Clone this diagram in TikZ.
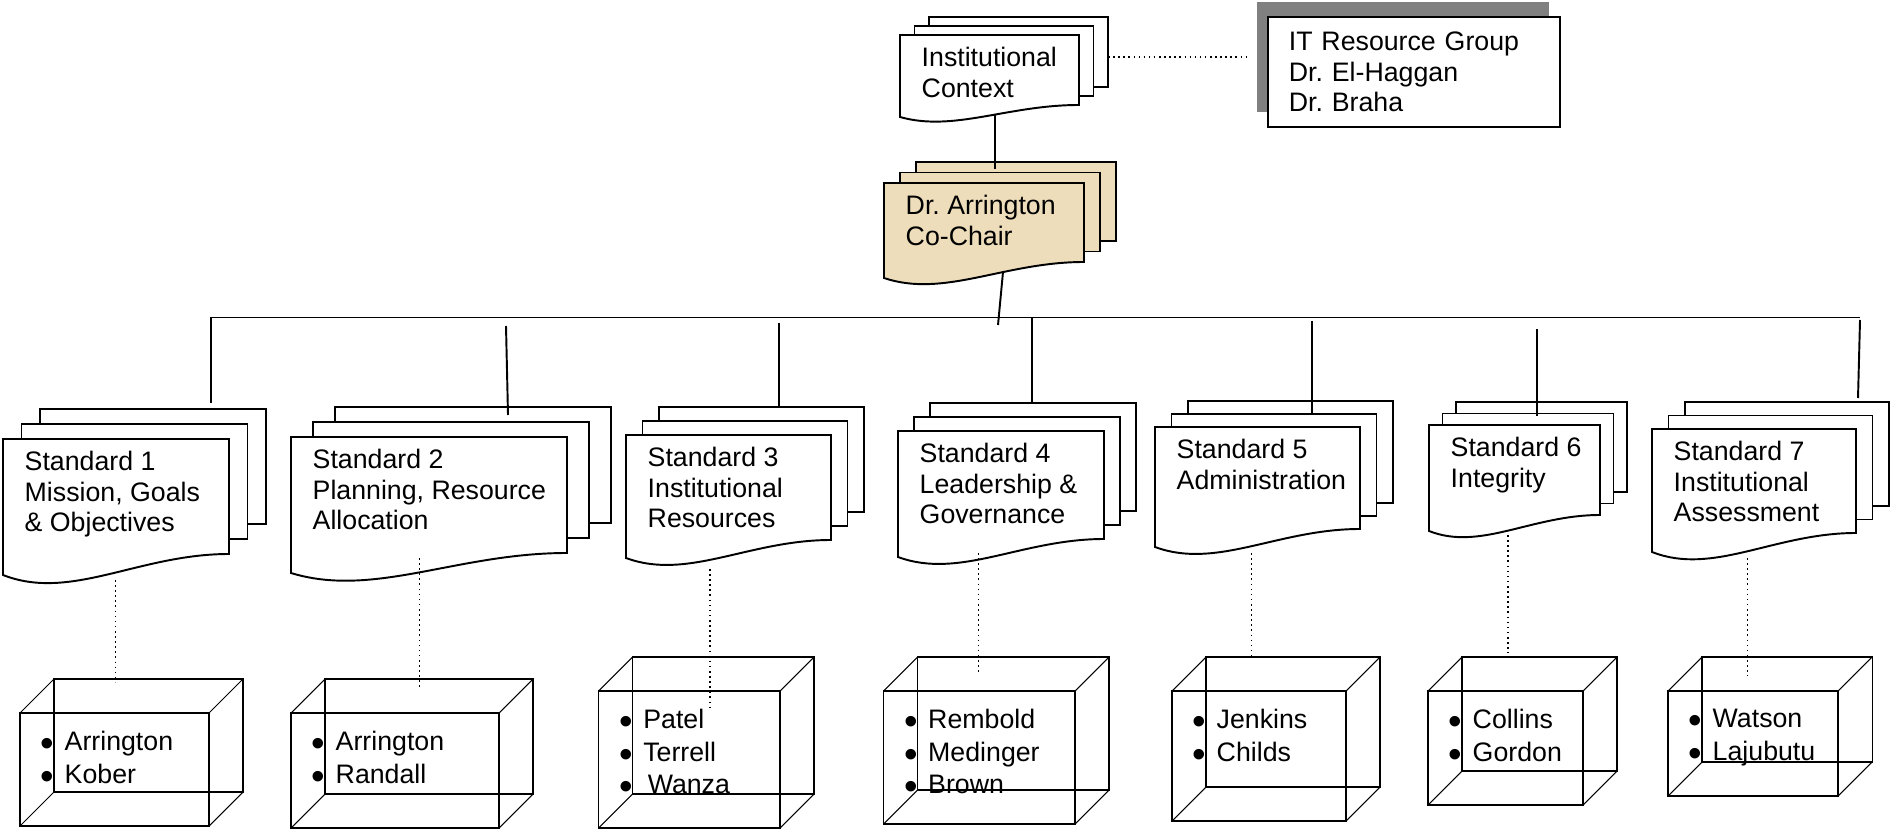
\documentclass[tikz,border=0pt]{standalone}
\usepackage{fontspec}
\setmainfont{Liberation Sans}
\usetikzlibrary{shadows}
\definecolor{parch}{RGB}{237,221,186}
\newcommand{\itm}[1]{\makebox[0.24cm][l]{\smash{\raisebox{-1.8pt}{\fontsize{11}{11}\selectfont\textbullet}}}#1}
\frenchspacing

\begin{document}
\begin{tikzpicture}[x=0.01cm, y=-0.01cm,
    docline/.style={line width=0.55pt, draw=black},
    doctext/.style={inner sep=0pt, anchor=north west, align=left, font=\fontsize{7.6}{8.7}\selectfont},
    cubeline/.style={line width=0.3pt},
    celltext/.style={inner sep=0pt, anchor=north west, align=left, font=\fontsize{7.6}{9.25}\selectfont},
    conn/.style={line width=0.55pt},
    dotconn/.style={line width=0.45pt, densely dotted}]
    \useasboundingbox (0,0) rectangle (1891,831);

    % stacked pages: back, middle, then the front page with the wavy bottom
    \foreach \nm/\xl/\yt/\xr/\ybr/\ybl/\dx/\dy/\fc/\txt in {%
        ic/900/35/1079/105/117/14.5/9/white/{Institutional\\Context},%
        cc/884/183/1084/262/278/16/10.5/parch/{Dr. Arrington\\Co-Chair},%
        s1/3/439/229/554/575/18.5/15/white/{Standard 1\\Mission, Goals\\\& Objectives},%
        s2/291/437/567/553/573/22/15/white/{Standard 2\\Planning, Resource\\Allocation},%
        s3/626/435/831/540/558/16.5/14/white/{Standard 3\\Institutional\\Resources},%
        s4/898/431/1104/539/557/16/14/white/{Standard 4\\Leadership \&\\Governance},%
        s5/1155/427/1360/529/547/16.5/13/white/{Standard 5\\Administration},%
        s6/1429/425/1600/515/531/13.5/11.5/white/{Standard 6\\Integrity},%
        s7/1652/429/1856/533/552/16.5/13.5/white/{Standard 7\\Institutional\\Assessment}%
      }{%
      \filldraw[docline, fill=\fc] ({\xl+2*\dx},{\yt-2*\dy}) rectangle ({\xr+2*\dx},{\ybr-2*\dy});
      \filldraw[docline, fill=\fc] ({\xl+\dx},{\yt-\dy}) rectangle ({\xr+\dx},{\ybr-\dy});
      \filldraw[docline, fill=\fc] (\xl,\yt) -- (\xr,\yt) -- (\xr,\ybr)
          .. controls ({\xr-0.4*(\xr-\xl)},\ybr) and ({\xl+0.3*(\xr-\xl)},{\ybl+1.27*(\ybl-\ybr)}) .. (\xl,\ybl) -- cycle;
      \node[doctext] (\nm) at ({\xl+21},{\yt+11.5}) {\txt};
    }

    % IT group box with its shadow up and left
    \node[draw, line width=0.45pt, fill=white, anchor=north west,
          minimum height=1.10cm, text width=2.5cm, inner xsep=0.21cm, inner ysep=0pt,
          align=left, font=\fontsize{7.6}{8.55}\selectfont,
          drop shadow={shadow xshift=-0.11cm, shadow yshift=0.15cm, fill=gray, opacity=1}]
          (itgrp) at (1267,16) {IT Resource Group\\Dr. El-Haggan\\Dr. Braha};

    % wireframe boxes with the members
    \foreach \nm/\xl/\yt/\xr/\yb/\txt in {%
        c1/20/713/209/826/{\itm{Arrington}\\\itm{Kober}},%
        c2/291/713/499/828/{\itm{Arrington}\\\itm{Randall}},%
        c3/598.6/691/780/828/{\itm{Patel}\\\itm{Terrell}\\\itm{\,Wanza}},%
        c4/883.5/691/1075/824/{\itm{Rembold}\\\itm{Medinger}\\\itm{Brown}},%
        c5/1172/691/1346/821/{\itm{Jenkins}\\\itm{Childs}},%
        c6/1428/691/1583/805/{\itm{Collins}\\\itm{Gordon}},%
        c7/1668/691/1838/796/{\itm{Watson}\\\itm{Lajubutu}}%
      }{%
      \draw[cubeline] (\xl,\yt) rectangle (\xr,\yb);
      \draw[cubeline] ({\xl+34},{\yt-34}) rectangle ({\xr+34},{\yb-34});
      \foreach \cx/\cy in {\xl/\yt, \xr/\yt, \xl/\yb, \xr/\yb}
        \draw[cubeline] (\cx,\cy) -- ({\cx+34},{\cy-34});
      \node[celltext] (\nm) at ({\xl+20},{\yt+17.5}) {\txt};
    }

    % solid connectors
    \coordinate (icout) at (995,115);
    \coordinate (ccin)  at (995,169);
    \coordinate (ccout) at (1003,272);
    \coordinate (ccend) at (998,325);
    \draw[conn] (icout) -- (ccin);
    \draw[conn] (ccout) -- (ccend);

    \coordinate (busL) at (211,317.5);
    \coordinate (busR) at (1860,317.5);
    \coordinate (s1in) at (211,403);
    \draw[conn] (s1in) -- (busL) -- (busR);% bus with the first drop
    \foreach \i/\xa/\ya/\xb/\yb in {2/506/326/508/415, 3/778.6/323/778.6/408,
        4/1032/317.5/1032/402, 5/1312/321/1312/415, 6/1537/329/1537/416, 7/1860/320/1858/398}{%
      \coordinate (b\i) at (\xa,\ya);
      \coordinate (s\i in) at (\xb,\yb);
      \draw[conn] (b\i) -- (s\i in);
    }

    % dotted links
    \coordinate (icside) at (1108,57);
    \coordinate (itside) at (1248,57);
    \draw[dotconn] (icside) -- (itside);
    \foreach \i/\x/\ya/\yb in {1/115.5/580/682, 2/419.5/558/688, 3/710/569/708,
        4/978.6/553/674, 5/1251.5/553/657, 6/1508/535/653, 7/1747.5/558/676}{%
      \coordinate (s\i out) at (\x,\ya);
      \coordinate (c\i in) at (\x,\yb);
      \draw[dotconn] (s\i out) -- (c\i in);
    }
\end{tikzpicture}
\end{document}
